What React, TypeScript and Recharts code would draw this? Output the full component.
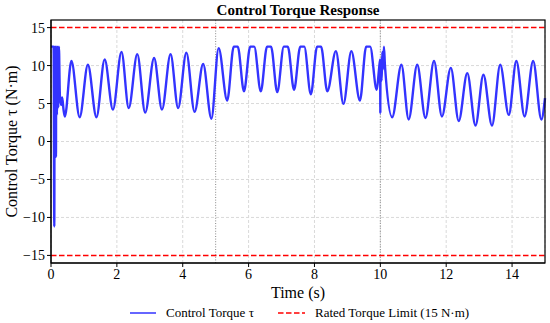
import React from "react";
import {
  CartesianGrid,
  Line,
  LineChart,
  ReferenceLine,
  XAxis,
  YAxis,
} from "recharts";

// time stamps (s) and torque readings (N·m)
const TIME = [
  0.0, 0.08, 0.1, 0.11, 0.13, 0.14, 0.15, 0.16, 0.18, 0.2, 0.22, 0.24, 0.27, 0.31, 0.34, 0.38, 0.42,
  0.62, 0.87, 1.12, 1.38, 1.63, 1.88, 2.14, 2.36, 2.62, 2.86, 3.13, 3.37, 3.63, 3.86, 4.11, 4.36,
  4.62, 4.87, 5.09, 5.35, 5.55, 5.67, 5.86, 6.05, 6.17, 6.37, 6.56, 6.68, 6.87, 7.07, 7.19, 7.38,
  7.57, 7.69, 7.89, 8.08, 8.2, 8.39, 8.65, 8.88, 9.12, 9.38, 9.57, 9.69, 9.89, 9.96, 9.995, 10.0,
  10.005, 10.04, 10.06, 10.08, 10.11, 10.14, 10.36, 10.64, 10.86, 11.12, 11.37, 11.63, 11.87, 12.14,
  12.38, 12.64, 12.89, 13.13, 13.39, 13.64, 13.9, 14.13, 14.38, 14.64, 14.89, 15.0,
];
const TORQUE = [
  12.5, 12.5, -11.2, 12.5, 4.5, 12.5, -2.0, 12.5, 3.5, 12.5, 4.5, 12.5, 6.0, 4.8, 5.8, 4.2, 3.3,
  10.6, 3.2, 10.1, 3.2, 10.8, 4.2, 11.8, 4.4, 11.5, 3.8, 11.0, 4.2, 11.5, 4.4, 11.7, 3.9,
  10.2, 3.0, 12.3, 5.4, 12.5, 12.5, 6.6, 12.5, 12.5, 6.6, 12.5, 12.5, 6.5, 12.5, 12.5, 6.8,
  12.5, 12.5, 6.2, 12.5, 12.5, 6.6, 11.9, 4.95, 11.9, 5.4, 12.5, 12.5, 6.8, 9.5, 10.8, 3.7,
  10.5, 8.0, 11.8, 9.5, 12.5, 10.0, 3.2, 10.1, 2.9, 10.1, 3.1, 10.6, 3.3, 9.7,
  2.7, 9.0, 2.1, 8.8, 2.1, 10.1, 3.5, 10.6, 3.3, 10.6, 2.9, 5.7,
];
const X_TICKS = [0, 2, 4, 6, 8, 10, 12, 14];
const Y_TICKS = [-15, -10, -5, 0, 5, 10, 15];
const Y_GRID = [-10, -5, 0, 5, 10];
const LIMIT = 15;
const PHASE_MARKS = [5, 10];

const data = TIME.map((t, i) => ({ t, torque: TORQUE[i] }));

const FONT = "'Liberation Serif', 'Times New Roman', serif";
const BLUE = "#3333ff";
const RED = "#ff0000";

const W = 550;
const H = 323;
const PLOT = { left: 51, top: 20, right: 545, bottom: 263 };

const fmt = (v: number) => String(v).replace("-", "\u2212");

export default function App() {
  return (
    <div style={{ position: "absolute", left: 0, top: 0, width: W, height: H, background: "#fff" }}>
      <LineChart
        width={W}
        height={H}
        data={data}
        margin={{ top: PLOT.top, right: W - PLOT.right, bottom: 0, left: 0 }}
      >
        <CartesianGrid stroke="#d9d9d9" strokeDasharray="3 2" horizontalValues={Y_GRID} />
        <XAxis
          dataKey="t"
          type="number"
          domain={[0, 15]}
          ticks={X_TICKS}
          height={H - PLOT.bottom}
          tickSize={4}
          tickMargin={2}
          stroke="#000"
          tick={{ fill: "#000", fontSize: 14, fontFamily: FONT }}
          label={{
            value: "Time (s)",
            position: "center",
            dy: -1,
            fill: "#000",
            fontSize: 16,
            fontFamily: FONT,
          }}
        />
        <YAxis
          type="number"
          domain={[-16, 16]}
          ticks={Y_TICKS}
          width={PLOT.left}
          tickSize={4}
          tickMargin={2}
          stroke="#000"
          tickFormatter={fmt}
          tick={{ fill: "#000", fontSize: 14, fontFamily: FONT }}
          label={{
            value: "Control Torque \u03c4 (N\u00b7m)",
            angle: -90,
            position: "center",
            dx: -14,
            fill: "#000",
            fontSize: 16,
            fontFamily: FONT,
          }}
        />
        {PHASE_MARKS.map((x) => (
          <ReferenceLine key={x} x={x} stroke="#888" strokeWidth={1} strokeDasharray="1 1.6" />
        ))}
        <ReferenceLine y={LIMIT} stroke={RED} strokeWidth={1.5} strokeDasharray="5.5 2.5" />
        <ReferenceLine y={-LIMIT} stroke={RED} strokeWidth={1.5} strokeDasharray="5.5 2.5" />
        <Line
          type="monotone"
          dataKey="torque"
          stroke={BLUE}
          strokeWidth={2.4}
          dot={false}
          isAnimationActive={false}
        />
      </LineChart>
      <svg
        width={W}
        height={H}
        style={{ position: "absolute", left: 0, top: 0, pointerEvents: "none" }}
      >
        <rect
          x={PLOT.left}
          y={PLOT.top}
          width={PLOT.right - PLOT.left}
          height={PLOT.bottom - PLOT.top}
          fill="none"
          stroke="#000"
          strokeWidth={1.2}
        />
        <text
          x={(PLOT.left + PLOT.right) / 2}
          y={15}
          textAnchor="middle"
          fontFamily={FONT}
          fontSize={15}
          fontWeight="bold"
        >
          Control Torque Response
        </text>
        {/* legend */}
        <line x1={130} y1={313} x2={156} y2={313} stroke={BLUE} strokeWidth={1.5} />
        <text x={166} y={317} fontFamily={FONT} fontSize={13}>
          Control Torque {"\u03c4"}
        </text>
        <line
          x1={278}
          y1={313}
          x2={305}
          y2={313}
          stroke={RED}
          strokeWidth={1.5}
          strokeDasharray="5.5 2.5"
        />
        <text x={315} y={317} fontFamily={FONT} fontSize={13}>
          Rated Torque Limit (15 N{"\u00b7"}m)
        </text>
      </svg>
    </div>
  );
}
